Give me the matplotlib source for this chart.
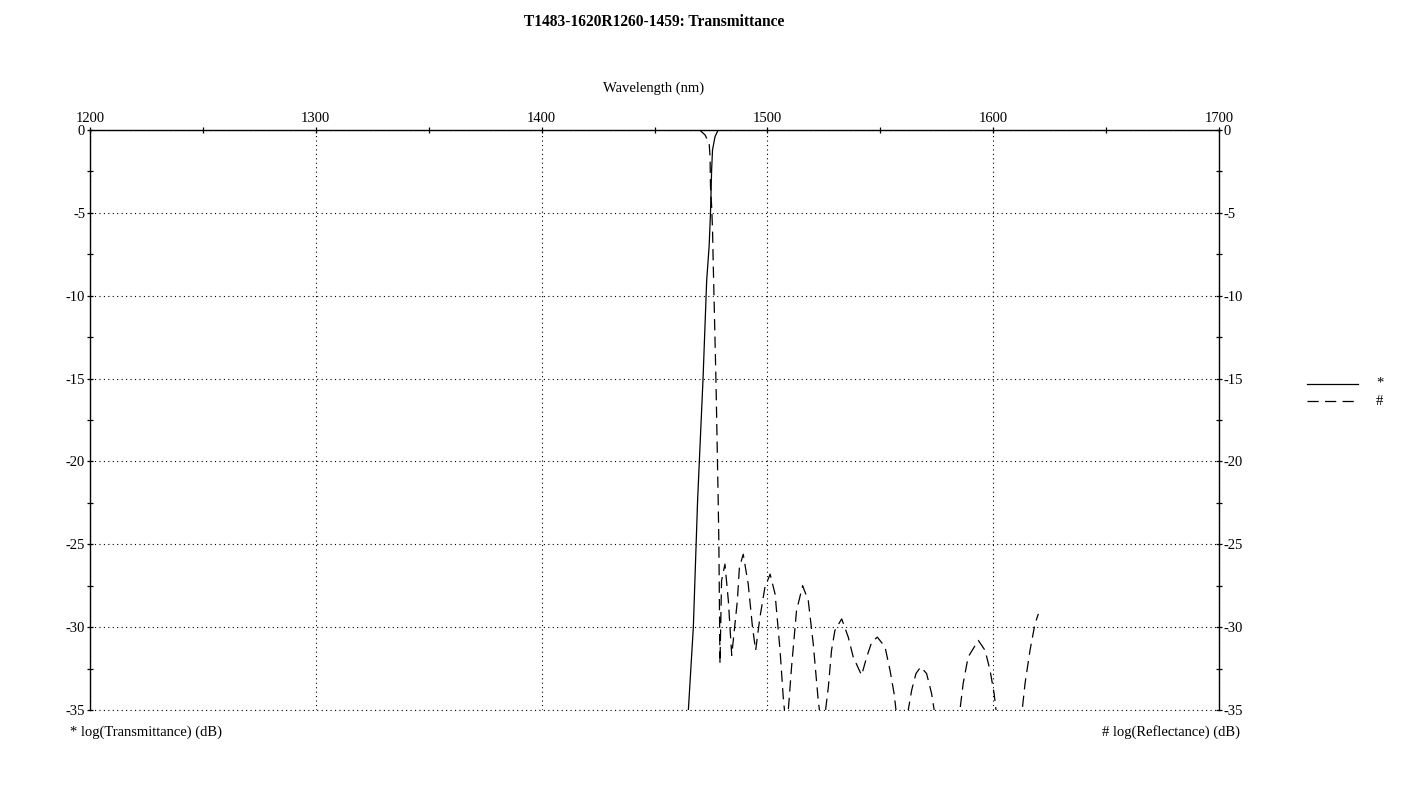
import numpy as np
import matplotlib.pyplot as plt
from matplotlib.ticker import MultipleLocator

# log(Transmittance) (dB), solid curve
trans_wl = [1463.0, 1465.0, 1467.2, 1469.1, 1471.5, 1473.1, 1474.2, 1474.8,
            1475.3, 1475.7, 1476.8, 1478.2, 1500.0, 1550.0, 1620.0]
trans_db = [-41.0, -35.0, -30.0, -22.3, -15.0, -9.1, -7.0, -5.0,
            -2.4, -1.2, -0.4, 0.0, 0.0, 0.0, 0.0]

# log(Reflectance) (dB), dashed curve
refl_wl = [1470.0, 1472.4, 1474.2, 1474.6, 1474.8, 1475.3, 1475.7, 1476.0,
           1477.2, 1478.2, 1478.5, 1479.0,
           1479.7, 1481.2, 1482.7, 1484.2,
           1486.7, 1487.6, 1489.3, 1491.5, 1493.4, 1494.8,
           1496.7, 1498.9, 1501.2, 1503.4, 1505.6, 1507.1, 1507.8, 1508.4, 1509.1,
           1510.7, 1512.9, 1515.6, 1518.1, 1520.3, 1522.5, 1523.3, 1524.4, 1525.5,
           1527.0, 1528.4, 1529.9, 1532.9, 1535.8, 1538.0, 1541.7,
           1544.0, 1546.2, 1548.7, 1552.1, 1554.3, 1556.1, 1557.2, 1559.6, 1562.0,
           1563.9, 1565.8, 1567.9, 1570.5, 1572.7, 1574.2, 1579.6, 1585.0,
           1586.7, 1588.9, 1593.4, 1596.4, 1598.6, 1600.4, 1601.5, 1607.0, 1612.6,
           1614.1, 1616.3, 1618.5, 1620.0]
refl_db = [0.0, -0.3, -0.8, -1.6, -3.4, -4.6, -6.0, -8.0,
           -15.0, -22.3, -24.9, -32.2,
           -27.2, -26.2, -28.4, -31.7,
           -28.4, -26.4, -25.6, -27.4, -30.0, -31.4,
           -29.4, -27.6, -26.8, -28.0, -31.4, -34.4, -35.3, -38.0, -35.3,
           -32.4, -29.0, -27.5, -28.4, -31.0, -34.4, -35.3, -38.0, -35.3,
           -33.6, -31.4, -30.2, -29.5, -30.6, -31.8, -32.9,
           -31.8, -30.9, -30.6, -31.2, -32.6, -34.0, -35.3, -39.0, -35.3,
           -33.8, -32.8, -32.4, -32.8, -34.0, -35.3, -42.0, -35.3,
           -33.4, -31.8, -30.8, -31.4, -32.6, -34.0, -35.3, -44.0, -35.3,
           -33.4, -31.4, -29.8, -29.2]

serif = ["Liberation Serif", "DejaVu Serif"]
plt.rcParams["font.family"] = serif
plt.rcParams["axes.unicode_minus"] = False

fig = plt.figure(figsize=(14.01, 7.93), dpi=100)
ax = fig.add_axes([90 / 1401, 1 - 710 / 793, (1219 - 90) / 1401, (710 - 130) / 793])

ax.plot(trans_wl, trans_db, color="black", lw=0.9, zorder=3)
ax.plot(refl_wl, refl_db, color="black", lw=0.9, dashes=(9, 5), zorder=3)

ax.set_xlim(1200, 1700)
ax.set_ylim(-35, 0)

ax.xaxis.set_major_locator(MultipleLocator(100))
ax.xaxis.set_minor_locator(MultipleLocator(50))
ax.yaxis.set_major_locator(MultipleLocator(5))
ax.yaxis.set_minor_locator(MultipleLocator(2.5))

ax.tick_params(axis="x", which="both", top=True, bottom=False, labeltop=True,
               labelbottom=False, direction="inout", length=5, width=0.9,
               labelsize=10.5, pad=1)
ax.tick_params(axis="y", which="both", left=True, right=True, labelleft=True,
               labelright=True, direction="inout", length=5, width=0.9,
               labelsize=10.5, pad=1)

ax.spines["bottom"].set_visible(False)
for s in ["top", "left", "right"]:
    ax.spines[s].set_linewidth(1.0)

grid_style = dict(color="black", linestyle=(0, (1, 3)), linewidth=0.8)
ax.grid(which="major", **grid_style)
# dotted line along the lower limit (not clipped away)
ax.axhline(-35, clip_on=False, zorder=2, **grid_style)

fig.text(654 / 1401, 1 - 22 / 793, "T1483-1620R1260-1459: Transmittance",
         ha="center", va="center", fontsize=11.2, fontweight="bold")
fig.text(654 / 1401, 1 - 88 / 793, "Wavelength (nm)", ha="center", va="center",
         fontsize=10.5)
fig.text(70 / 1401, 1 - 732 / 793, "* log(Transmittance) (dB)", ha="left",
         va="center", fontsize=10.5)
fig.text(1240 / 1401, 1 - 732 / 793, "# log(Reflectance) (dB)", ha="right",
         va="center", fontsize=10.5)

# legend at right
fig.add_artist(plt.Line2D([1307 / 1401, 1358 / 1401], [1 - 384 / 793] * 2,
                          color="black", lw=0.9))
fig.add_artist(plt.Line2D([1307 / 1401, 1358 / 1401], [1 - 401 / 793] * 2,
                          color="black", lw=0.9, dashes=(9, 5)))
fig.text(1376 / 1401, 1 - 383 / 793, "*", ha="left", va="center", fontsize=10.5)
fig.text(1376 / 1401, 1 - 401 / 793, "#", ha="left", va="center", fontsize=10.5)

fig.savefig("out.png", dpi=100, facecolor="white")
